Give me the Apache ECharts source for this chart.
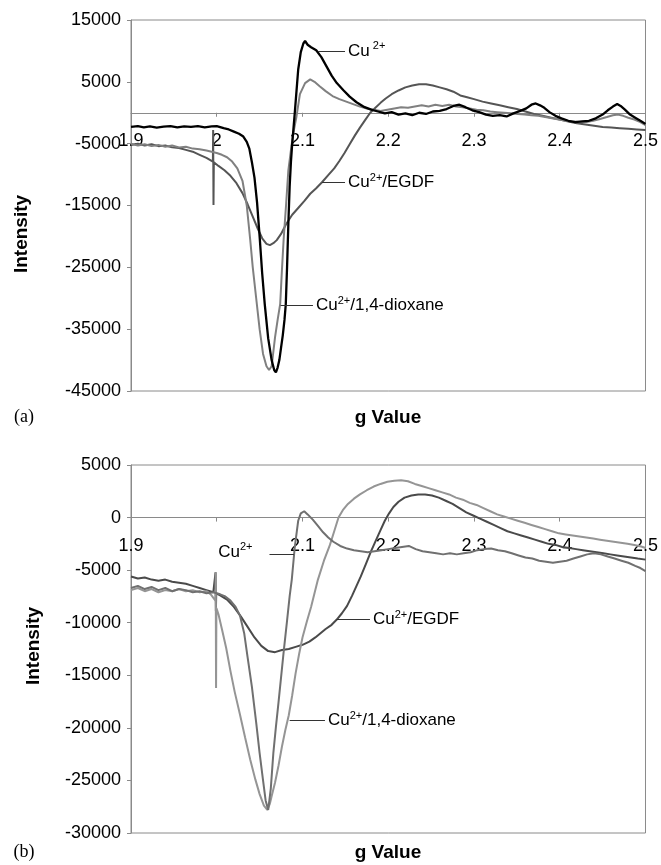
<!DOCTYPE html>
<html>
<head>
<meta charset="utf-8">
<script src="https://cdn.jsdelivr.net/npm/echarts@6/dist/echarts.min.js"></script>
<style>
  html, body { margin: 0; padding: 0; background: #ffffff; }
  #chart { width: 661px; height: 865px; }
</style>
</head>
<body>
<div id="chart"></div>
<script>
// ---- Panel (a): EPR spectra, g value vs intensity ----
const gA_cu = [1.900,1.908,1.915,1.922,1.930,1.938,1.946,1.954,1.962,1.970,1.978,1.986,1.994,2.000,2.008,2.014,2.020,2.026,2.031,2.035,2.038,2.041,2.044,2.047,2.050,2.053,2.056,2.060,2.064,2.067,2.069,2.071,2.073,2.075,2.077,2.079,2.0805,2.082,2.0835,2.085,2.0865,2.088,2.091,2.093,2.095,2.098,2.101,2.103,2.106,2.110,2.116,2.122,2.128,2.134,2.140,2.148,2.155,2.163,2.171,2.180,2.188,2.196,2.204,2.212,2.220,2.228,2.236,2.244,2.252,2.260,2.268,2.276,2.283,2.290,2.298,2.306,2.314,2.322,2.330,2.338,2.346,2.354,2.361,2.367,2.372,2.377,2.382,2.388,2.395,2.402,2.410,2.418,2.426,2.434,2.442,2.450,2.456,2.462,2.467,2.471,2.476,2.482,2.488,2.494,2.500];
const iA_cu = [-2300,-2150,-2350,-2200,-2400,-2250,-2150,-2350,-2200,-2300,-2150,-2350,-2200,-2150,-2500,-2700,-3050,-3400,-3850,-4700,-5800,-8000,-10500,-14500,-20000,-26000,-31000,-36500,-40000,-41600,-42000,-41200,-40000,-38000,-36000,-33500,-31000,-25000,-18000,-12000,-8000,-5000,0,3500,7000,9800,11200,11600,11000,10600,10100,9000,7500,6000,4800,3600,2600,1700,1000,500,200,-100,100,-300,-100,-400,0,-200,200,300,600,1100,1300,900,400,100,-300,-500,-400,-600,-100,300,700,1300,1500,1200,800,100,-500,-900,-1300,-1500,-1400,-1300,-900,-300,400,1000,1400,1100,500,-300,-800,-1300,-1800];

const gA_dx = [1.900,1.908,1.916,1.924,1.932,1.940,1.948,1.956,1.964,1.972,1.980,1.988,1.994,2.000,2.006,2.012,2.018,2.024,2.030,2.035,2.039,2.042,2.046,2.050,2.054,2.058,2.061,2.064,2.068,2.071,2.074,2.076,2.078,2.081,2.0835,2.087,2.090,2.093,2.097,2.103,2.109,2.114,2.120,2.127,2.135,2.143,2.151,2.159,2.167,2.175,2.183,2.191,2.199,2.207,2.215,2.223,2.231,2.239,2.247,2.255,2.263,2.271,2.279,2.287,2.295,2.303,2.311,2.319,2.327,2.335,2.343,2.351,2.359,2.367,2.375,2.383,2.391,2.399,2.407,2.415,2.423,2.431,2.439,2.447,2.455,2.462,2.468,2.474,2.480,2.487,2.494,2.500];
const iA_dx = [-5000,-5300,-5100,-5400,-5200,-5500,-5300,-5600,-5500,-5800,-5900,-6100,-6300,-6500,-6800,-7200,-7900,-9000,-11000,-15000,-20500,-25000,-30000,-35000,-39000,-41000,-41600,-41000,-36300,-33500,-30900,-25500,-20500,-14600,-9300,-5500,-2800,-600,3000,4800,5400,5000,4300,3500,2700,2200,1800,1400,1000,700,500,300,500,700,900,800,1000,1200,1000,1300,1100,1300,1000,900,700,500,400,200,100,0,-100,-200,-300,-400,-500,-700,-900,-1100,-1300,-1400,-1500,-1500,-1300,-1000,-700,-400,-300,-500,-800,-1100,-1500,-2000];

const gA_eg = [1.900,1.908,1.916,1.924,1.932,1.940,1.948,1.956,1.964,1.972,1.980,1.988,1.9955,1.9958,1.9962,1.9966,2.002,2.009,2.016,2.023,2.030,2.036,2.042,2.048,2.053,2.058,2.062,2.066,2.070,2.075,2.081,2.088,2.095,2.102,2.109,2.116,2.123,2.130,2.137,2.143,2.149,2.155,2.161,2.167,2.173,2.179,2.185,2.191,2.197,2.204,2.212,2.220,2.228,2.236,2.244,2.252,2.260,2.268,2.276,2.284,2.292,2.300,2.310,2.320,2.330,2.340,2.350,2.360,2.370,2.380,2.390,2.400,2.410,2.420,2.430,2.440,2.450,2.460,2.470,2.480,2.490,2.500];
const iA_eg = [-5200,-5000,-5300,-5100,-5400,-5300,-5600,-5700,-6000,-6300,-6800,-7300,-7900,-2800,-14900,-8000,-8600,-9300,-10200,-11400,-13000,-14800,-16800,-18800,-20300,-21200,-21400,-21100,-20600,-19600,-18000,-16500,-15400,-14300,-13100,-12200,-11200,-10100,-9000,-7800,-6500,-5100,-3700,-2400,-1200,0,800,1600,2300,3000,3600,4100,4400,4600,4600,4400,4100,3800,3400,2800,2500,2200,1800,1500,1200,900,600,200,-200,-500,-800,-1100,-1400,-1700,-1900,-2100,-2300,-2400,-2500,-2600,-2700,-2800];

// ---- Panel (b) ----
const gB_cu = [1.900,1.908,1.916,1.924,1.932,1.940,1.948,1.956,1.964,1.972,1.980,1.988,1.996,2.004,2.010,2.016,2.022,2.027,2.032,2.036,2.041,2.046,2.050,2.054,2.057,2.060,2.063,2.066,2.069,2.072,2.075,2.078,2.082,2.085,2.0875,2.091,2.095,2.098,2.102,2.106,2.112,2.118,2.124,2.130,2.136,2.144,2.152,2.160,2.168,2.176,2.184,2.192,2.200,2.208,2.216,2.224,2.232,2.240,2.248,2.256,2.264,2.272,2.280,2.288,2.296,2.304,2.312,2.320,2.328,2.336,2.344,2.352,2.360,2.368,2.376,2.384,2.392,2.400,2.408,2.416,2.424,2.432,2.440,2.448,2.456,2.464,2.472,2.480,2.488,2.494,2.500];
const iB_cu = [-6700,-6500,-6800,-6600,-6900,-6700,-7000,-6800,-6900,-7100,-7000,-7200,-7100,-7300,-7500,-7900,-8500,-9300,-11000,-13300,-16100,-19500,-22400,-25000,-26900,-27800,-25800,-22400,-19900,-17600,-15200,-12800,-9800,-7500,-5900,-2800,-300,400,600,300,-200,-800,-1400,-1900,-2300,-2700,-2950,-3100,-3200,-3300,-3200,-3100,-3000,-2900,-2800,-2700,-3000,-3200,-3300,-3400,-3500,-3400,-3500,-3400,-3300,-3100,-3000,-2950,-3100,-3200,-3400,-3600,-3800,-3900,-4100,-4200,-4300,-4200,-4100,-3900,-3700,-3500,-3400,-3500,-3700,-3900,-4100,-4300,-4600,-4800,-5100];

const gB_dx = [1.900,1.908,1.916,1.924,1.932,1.940,1.948,1.956,1.964,1.972,1.980,1.988,1.993,1.9985,1.9988,1.9992,1.9996,2.002,2.006,2.011,2.016,2.021,2.027,2.033,2.039,2.045,2.050,2.055,2.059,2.062,2.064,2.068,2.072,2.076,2.080,2.084,2.088,2.092,2.096,2.100,2.105,2.110,2.114,2.118,2.125,2.132,2.137,2.142,2.147,2.153,2.160,2.167,2.175,2.183,2.191,2.199,2.207,2.215,2.223,2.231,2.239,2.247,2.255,2.263,2.271,2.279,2.287,2.295,2.303,2.311,2.319,2.327,2.335,2.343,2.351,2.359,2.367,2.375,2.383,2.391,2.399,2.407,2.415,2.423,2.431,2.439,2.447,2.455,2.463,2.471,2.479,2.487,2.495,2.500];
const iB_dx = [-6900,-6700,-7000,-6800,-7100,-6900,-7000,-6800,-7000,-6900,-7100,-7000,-7300,-7900,-5200,-16200,-8600,-9200,-10600,-12400,-14600,-16600,-18700,-20900,-23000,-24900,-26300,-27400,-27800,-27200,-26500,-25200,-23600,-21800,-20200,-18800,-16900,-14800,-13000,-11400,-9900,-8500,-7200,-5900,-4100,-2600,-1300,0,700,1300,1800,2200,2600,2950,3200,3400,3500,3550,3450,3200,3000,2800,2600,2400,2200,1900,1700,1400,1200,900,600,300,100,-100,-300,-500,-700,-900,-1100,-1300,-1500,-1600,-1700,-1800,-1900,-2000,-2100,-2200,-2300,-2400,-2500,-2600,-2750,-2900];

const gB_eg = [1.900,1.908,1.916,1.924,1.932,1.940,1.948,1.956,1.964,1.972,1.980,1.988,1.996,1.9986,1.9990,1.9994,2.004,2.012,2.020,2.028,2.036,2.044,2.052,2.060,2.068,2.076,2.084,2.092,2.100,2.108,2.115,2.121,2.127,2.134,2.140,2.146,2.152,2.158,2.163,2.168,2.174,2.180,2.186,2.191,2.196,2.201,2.206,2.212,2.219,2.227,2.235,2.243,2.251,2.259,2.267,2.275,2.283,2.291,2.299,2.307,2.315,2.323,2.331,2.339,2.347,2.355,2.363,2.371,2.379,2.387,2.395,2.403,2.411,2.419,2.427,2.435,2.443,2.451,2.459,2.467,2.475,2.483,2.491,2.500];
const iB_eg = [-5600,-5800,-5700,-5900,-6000,-5900,-6100,-6200,-6300,-6500,-6700,-6900,-7100,-5200,-8900,-7200,-7400,-7800,-8500,-9400,-10400,-11400,-12200,-12700,-12800,-12600,-12500,-12300,-12100,-11800,-11400,-11000,-10600,-10200,-9700,-9100,-8400,-7400,-6500,-5600,-4400,-3200,-2100,-1200,-300,400,1000,1500,1900,2100,2200,2200,2100,1900,1600,1300,900,500,200,-100,-400,-700,-1000,-1300,-1500,-1700,-1900,-2100,-2300,-2500,-2600,-2800,-2900,-3000,-3100,-3200,-3300,-3400,-3500,-3600,-3700,-3800,-3900,-4000];

// Axis ranges and tick steps
const gRange = [1.9, 2.5];
const gStep = 0.1;
const yRangeA = [-45000, 15000];
const yStepA = 10000;
const yRangeB = [-30000, 5000];
const yStepB = 5000;

// Callout labels: [g at curve, g at text end, intensity]
const calloutA_cu = [2.118, 2.1496, 10000];
const calloutA_eg = [2.1227, 2.1496, -11300];
const calloutA_dx = [2.0745, 2.1122, -31100];
const calloutB_cu = [2.0900, 2.0615, -3500];
const calloutB_eg = [2.1397, 2.1787, -9650];
const calloutB_dx = [2.0850, 2.1262, -19300];

const zip = (xs, ys) => xs.map((x, i) => [x, ys[i]]);

const FONT = '"Liberation Sans", Arial, Helvetica, sans-serif';
const AXIS_GRAY = '#8a8a8a';

// plot boxes (px)
const boxA = { left: 131, right: 15, top: 20, height: 371 };
const boxB = { left: 131, right: 15, top: 465, height: 368 };

// distance from the bottom edge of a plot box up to its zero line
const zeroLift = (box, range) => box.height * (0 - range[0]) / (range[1] - range[0]);

const rich = {
  n: { fontSize: 17, fontFamily: FONT, color: '#000', lineHeight: 20 },
  s: { fontSize: 11, fontFamily: FONT, color: '#000', lineHeight: 11, verticalAlign: 'top' }
};

function callout(c, text, dist, opaque) {
  const label = {
    show: true,
    position: 'end',
    distance: dist,
    formatter: () => text,
    rich: rich,
    color: '#000'
  };
  if (opaque) {
    // white box behind the text, as in the printed figure
    label.backgroundColor = '#ffffff';
    label.padding = [9, 2, 2, 8];
    label.offset = [0, -6];
  }
  return {
    silent: true,
    symbol: 'none',
    animation: false,
    lineStyle: { color: '#333', width: 1, type: 'solid' },
    emphasis: { disabled: true },
    label: label,
    data: [[{ coord: [c[0], c[2]] }, { coord: [c[1], c[2]] }]]
  };
}

// g axis drawn along the zero line of the intensity scale
function xAxis(gi, lift) {
  return {
    type: 'value', gridIndex: gi, position: 'bottom',
    offset: -lift,
    min: gRange[0], max: gRange[1], interval: gStep,
    axisLine: { show: true, onZero: false, lineStyle: { color: AXIS_GRAY, width: 1 } },
    axisTick: { show: true, length: 4, lineStyle: { color: AXIS_GRAY } },
    axisLabel: { color: '#000', fontSize: 18, fontFamily: FONT, margin: 19, showMinLabel: true, showMaxLabel: true,
                 formatter: v => String(Math.round(v * 10) / 10) },
    splitLine: { show: false }
  };
}

function yAxis(gi, range, step) {
  return {
    type: 'value', gridIndex: gi,
    min: range[0], max: range[1], interval: step,
    axisLine: { show: true, onZero: false, lineStyle: { color: AXIS_GRAY, width: 1 } },
    axisTick: { show: true, length: 4, lineStyle: { color: AXIS_GRAY } },
    axisLabel: { color: '#000', fontSize: 18, fontFamily: FONT, margin: 10, showMinLabel: true, showMaxLabel: true,
                 formatter: v => String(v) },
    splitLine: { show: false }
  };
}

function line(name, gi, data, color, width, mark) {
  return {
    name: name, type: 'line',
    xAxisIndex: gi, yAxisIndex: gi,
    data: data,
    showSymbol: false, symbol: 'none',
    smooth: false, sampling: null,
    lineStyle: { color: color, width: width },
    itemStyle: { color: color },
    animation: false,
    markLine: mark
  };
}

const chart = echarts.init(document.getElementById('chart'), null, { renderer: 'canvas' });

chart.setOption({
  backgroundColor: '#ffffff',
  animation: false,
  grid: [
    Object.assign({ show: true, borderColor: AXIS_GRAY, borderWidth: 1, backgroundColor: 'transparent' }, boxA),
    Object.assign({ show: true, borderColor: AXIS_GRAY, borderWidth: 1, backgroundColor: 'transparent' }, boxB)
  ],
  xAxis: [xAxis(0, zeroLift(boxA, yRangeA)), xAxis(1, zeroLift(boxB, yRangeB))],
  yAxis: [yAxis(0, yRangeA, yStepA), yAxis(1, yRangeB, yStepB)],
  series: [
    line('Cu2+/EGDF (a)', 0, zip(gA_eg, iA_eg), '#555555', 2, callout(calloutA_eg, '{n|Cu}{s|2+}{n|/EGDF}', 3)),
    line('Cu2+/1,4-dioxane (a)', 0, zip(gA_dx, iA_dx), '#808080', 2, callout(calloutA_dx, '{n|Cu}{s|2+}{n|/1,4-dioxane}', 3)),
    line('Cu2+ (a)', 0, zip(gA_cu, iA_cu), '#000000', 2.3, callout(calloutA_cu, '{n|Cu}{s| 2+}', 3)),
    line('Cu2+/EGDF (b)', 1, zip(gB_eg, iB_eg), '#4a4a4a', 2, callout(calloutB_eg, '{n|Cu}{s|2+}{n|/EGDF}', 3)),
    line('Cu2+/1,4-dioxane (b)', 1, zip(gB_dx, iB_dx), '#959595', 2, callout(calloutB_dx, '{n|Cu}{s|2+}{n|/1,4-dioxane}', 3)),
    line('Cu2+ (b)', 1, zip(gB_cu, iB_cu), '#707070', 2, callout(calloutB_cu, '{n|Cu}{s|2+}', 15, true))
  ],
  graphic: [
    { type: 'text', x: 388, y: 418, style: { text: 'g Value', font: 'bold 19px ' + FONT, fill: '#000', textAlign: 'center', textVerticalAlign: 'middle' } },
    { type: 'text', x: 388, y: 853, style: { text: 'g Value', font: 'bold 19px ' + FONT, fill: '#000', textAlign: 'center', textVerticalAlign: 'middle' } },
    { type: 'text', x: 22, y: 234, rotation: Math.PI / 2, style: { text: 'Intensity', font: 'bold 19px ' + FONT, fill: '#000', textAlign: 'center', textVerticalAlign: 'middle' } },
    { type: 'text', x: 34, y: 646, rotation: Math.PI / 2, style: { text: 'Intensity', font: 'bold 19px ' + FONT, fill: '#000', textAlign: 'center', textVerticalAlign: 'middle' } },
    { type: 'text', x: 24, y: 417, style: { text: '(a)', font: '18px "Liberation Serif", "Times New Roman", serif', fill: '#000', textAlign: 'center', textVerticalAlign: 'middle' } },
    { type: 'text', x: 24, y: 852, style: { text: '(b)', font: '18px "Liberation Serif", "Times New Roman", serif', fill: '#000', textAlign: 'center', textVerticalAlign: 'middle' } }
  ]
});
</script>
</body>
</html>
